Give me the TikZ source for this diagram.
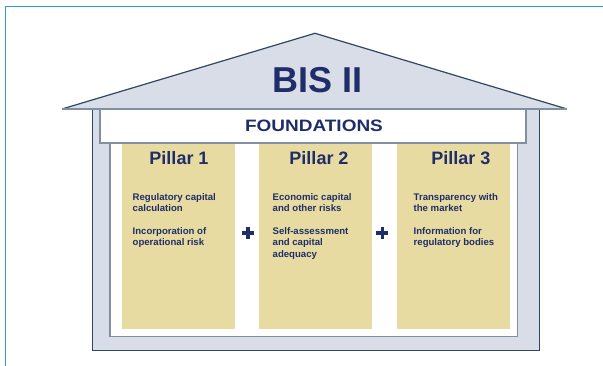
\documentclass[tikz,border=0pt]{standalone}
\usepackage{fontspec}
\setmainfont{Liberation Sans}
\definecolor{bisnavy}{RGB}{31,46,104}
\definecolor{roofgrey}{RGB}{216,221,231}
\definecolor{roofedge}{RGB}{50,70,98}
\definecolor{wallline}{RGB}{128,144,162}
\definecolor{pillarfill}{RGB}{232,219,161}
\definecolor{framecyan}{RGB}{44,160,214}
\tikzset{every picture/.style={line width=0.75pt}}
\tikzset{
  pillarhead/.style={inner sep=0pt, text=bisnavy, font=\fontsize{18}{18}\selectfont\bfseries},
  pillartext/.style={anchor=north west, inner sep=0pt, align=left, text=bisnavy, font=\fontsize{9.6}{11.7}\selectfont\bfseries},
  plusmark/.style={color=bisnavy, line width=3.6pt}
}

\begin{document}
\begin{tikzpicture}[x=1pt,y=1pt,yscale=-1]
\useasboundingbox (0,0) rectangle (603,366);

%Straight Lines frame
\draw [color=framecyan, line width=1pt] (5,366) -- (5,7) -- (603,7) ;

%Shape: Rectangle house body
\draw [color=roofedge, fill=roofgrey, line width=1pt] (92.7,109) rectangle (539.3,351) ;
%Shape: Rectangle inner room
\draw [color=wallline, fill=white, line width=1.2pt] (110,143) rectangle (517.7,336.7) ;
%Shape: Rectangle foundations
\draw [color=wallline, fill=white, line width=1.2pt] (100,109) rectangle (526,143) ;

%Shape: Rectangle pillars
\fill [pillarfill] (121.7,144) rectangle (235,329) ;
\fill [pillarfill] (259.3,144) rectangle (372,329) ;
\fill [pillarfill] (396.7,144) rectangle (510,329) ;

%Shape: Triangle roof
\draw [color=roofedge, fill=roofgrey, line width=1.2pt, line join=round] (62,109) -- (315,33.3) -- (567,109) ;
\draw [color=wallline, line width=1.6pt] (62,109) -- (567,109) ;

% Text Node
\node (bis) at (318,79.7) {\fontsize{36}{36}\selectfont\bfseries\color{bisnavy}BIS II};
% Text Node
\node (found) at (314,126) {\fontsize{16.5}{16.5}\selectfont\bfseries\color{bisnavy}\scalebox{1.15}[1]{FOUNDATIONS}};

% Text Node
\node [pillarhead] (headA) at (179,158) {Pillar 1};
\node [pillarhead] (headB) at (319,158) {Pillar 2};
\node [pillarhead] (headC) at (460.8,158) {Pillar 3};

% Text Node
\node [pillartext] (textA1) at (132.3,192.7) {Regulatory capital\\calculation};
\node [pillartext] (textA2) at (132.3,226.7) {Incorporation of\\operational risk};
\node [pillartext] (textB1) at (272.3,192.7) {Economic capital\\and other risks};
\node [pillartext] (textB2) at (272.3,226.7) {Self-assessment\\and capital\\adequacy};
\node [pillartext] (textC1) at (413.3,192.7) {Transparency with\\the market};
\node [pillartext] (textC2) at (413.3,226.7) {Information for\\regulatory bodies};

%Plus signs
\coordinate (plusA) at (248,233) ;
\coordinate (plusB) at (382.3,233) ;
\draw [plusmark] (plusA) +(-6,0) -- +(6,0) (plusA) +(0,-6) -- +(0,6) ;
\draw [plusmark] (plusB) +(-6,0) -- +(6,0) (plusB) +(0,-6) -- +(0,6) ;
\end{tikzpicture}
\end{document}
